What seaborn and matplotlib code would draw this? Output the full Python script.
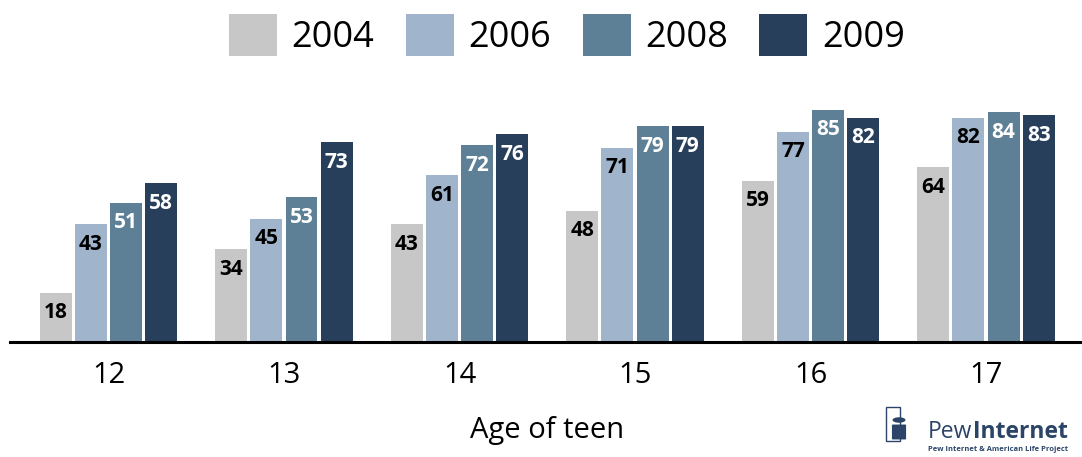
import pandas as pd
import seaborn as sns
import matplotlib.pyplot as plt
from matplotlib.patches import Rectangle, Circle, FancyBboxPatch

ages = ['12', '13', '14', '15', '16', '17']
years = ['2004', '2006', '2008', '2009']
v2004 = [18, 34, 43, 48, 59, 64]
v2006 = [43, 45, 61, 71, 77, 82]
v2008 = [51, 53, 72, 79, 85, 84]
v2009 = [58, 73, 76, 79, 82, 83]

colors = ['#c7c7c7', '#a0b5cc', '#5e8096', '#283f5c']
label_colors = ['black', 'black', 'white', 'white']

rows = []
for yr, vals in zip(years, [v2004, v2006, v2008, v2009]):
    for a, v in zip(ages, vals):
        rows.append({'age': a, 'year': yr, 'pct': v})
df = pd.DataFrame(rows)

sns.set_style('white', {'text.color': 'black', 'xtick.color': 'black'})
plt.rcParams['font.family'] = ['Open Sans', 'DejaVu Sans']

fig = plt.figure(figsize=(10.82, 4.57), dpi=100)
ax = fig.add_axes([10 / 1082, 115 / 457, 1072 / 1082, 246 / 457])

sns.barplot(data=df, x='age', y='pct', hue='year', palette=colors,
            order=ages, hue_order=years, width=0.8, gap=0.09,
            linewidth=0, saturation=1, ax=ax)

ax.set_xlim(-0.561, 5.547)
ax.set_ylim(0, 90)

# value labels inside the bar tops
for cont, lc in zip(ax.containers, label_colors):
    for bar in cont:
        h = bar.get_height()
        ax.annotate(f'{h:.0f}', xy=(bar.get_x() + bar.get_width() / 2, h),
                    xytext=(0, -14.4), textcoords='offset points',
                    ha='center', va='center', fontsize=15,
                    fontweight='bold', color=lc)

for s in ['top', 'right', 'left']:
    ax.spines[s].set_visible(False)
ax.spines['bottom'].set_linewidth(2.2)
ax.spines['bottom'].set_color('black')
ax.set_yticks([])
ax.set_ylabel('')
ax.set_xlabel('')
ax.tick_params(axis='x', length=0, labelsize=21, pad=14, labelcolor='black')

fig.text(547 / 1082, 1 - 438 / 457, 'Age of teen', ha='center',
         va='baseline', fontsize=21, color='black')

sns.move_legend(ax, 'upper center', bbox_to_anchor=(0.524, 1.0),
                bbox_transform=fig.transFigure, ncol=4, frameon=False,
                title=None, fontsize=26, handlelength=1.33,
                handleheight=1.4, handletextpad=0.4, columnspacing=0.87,
                borderaxespad=0.0, labelcolor='black')

# Pew Internet logo
navy = '#2b4468'
fig.text(928 / 1082, 1 - 438 / 457, 'Pew', fontsize=16.5, color=navy,
         va='baseline', ha='left')
fig.text(973 / 1082, 1 - 438 / 457, 'Internet', fontsize=16.5, color=navy,
         fontweight='bold', va='baseline', ha='left')
fig.text(928 / 1082, 1 - 451 / 457, 'Pew Internet & American Life Project',
         fontsize=5.4, color=navy, fontweight='bold', va='baseline',
         ha='left')
fig.patches.append(Rectangle((886 / 1082, 1 - 441 / 457), 14 / 1082,
                             34 / 457, transform=fig.transFigure,
                             fill=False, edgecolor=navy, linewidth=1))
fig.patches.append(FancyBboxPatch((893 / 1082, 1 - 439 / 457), 12 / 1082,
                                  14 / 457, boxstyle='round,pad=0.001',
                                  transform=fig.transFigure,
                                  facecolor=navy, edgecolor='none'))
fig.patches.append(Circle((899 / 1082, 1 - 420 / 457), 0.006,
                          transform=fig.transFigure, facecolor=navy,
                          edgecolor='none'))

fig.savefig('out.png', dpi=100)
